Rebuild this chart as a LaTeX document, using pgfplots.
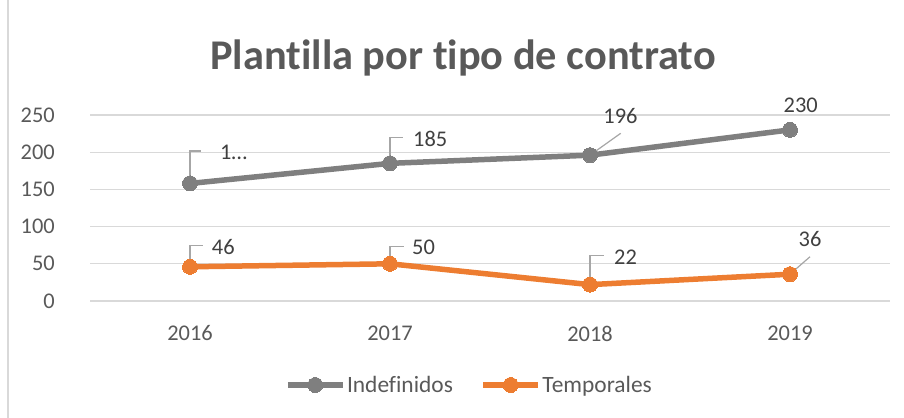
\documentclass[border=0pt]{standalone}
\usepackage{fontspec}
\setmainfont{Carlito}[Ligatures=NoCommon]
\usepackage{pgfplots}
\pgfplotsset{compat=1.18}
\definecolor{cgray}{HTML}{7F7F7F}
\definecolor{corange}{HTML}{ED7D31}
\definecolor{ctext}{HTML}{595959}
\definecolor{clabel}{HTML}{404040}
\definecolor{cgrid}{HTML}{D9D9D9}
\definecolor{clead}{HTML}{A6A6A6}
\begin{document}
\begin{tikzpicture}
\useasboundingbox (0bp,0bp) rectangle (904bp,418bp);
\draw[cgrid, line width=1.2bp] (8bp,0bp) -- (8bp,418bp);
\node[anchor=base, inner sep=0pt, text=ctext, font=\fontsize{42.5}{48}\selectfont\bfseries] at (463bp,348bp) {Plantilla por tipo de contrato};
\begin{axis}[
  at={(90bp,117bp)}, anchor=south west,
  width=800bp, height=186bp, scale only axis,
  xmin=-0.5, xmax=3.5, ymin=0, ymax=250,
  xtick={0,1,2,3}, xticklabels={2016,2017,2018,2019},
  ytick={0,50,100,150,200,250},
  /pgf/number format/assume math mode=true,
  axis line style={draw=none},
  major tick length=0pt,
  ymajorgrids, grid style={cgrid, line width=1.3bp},
  tick label style={font=\fontsize{22.5}{27}\selectfont, text=ctext, inner sep=0pt},
  yticklabel style={anchor=east, xshift=-35bp},
  xticklabel style={anchor=north, yshift=-24.6bp},
  clip=false,
  legend columns=2,
  legend style={at={(0.474,-0.4516)}, anchor=center, draw=none, fill=none,
    font=\fontsize{23.5}{27}\selectfont, text=ctext,
    nodes={inner sep=1.5bp},
    /tikz/every even column/.append style={column sep=26bp}},
  legend image code/.code={\draw[mark repeat=2,mark phase=2,#1] plot coordinates {(0bp,0bp) (27.5bp,0bp) (55bp,0bp)};},
]
\addplot[cgray, line width=5.5bp, mark=*, mark size=7.5bp, mark options={solid, fill=cgray, draw=cgray, line width=0pt}]
  coordinates {(0,158) (1,185) (2,196) (3,230)};
\addlegendentry{Indefinidos}
\addplot[corange, line width=5.5bp, mark=*, mark size=7.5bp, mark options={solid, fill=corange, draw=corange, line width=0pt}]
  coordinates {(0,46) (1,50) (2,22) (3,36)};
\addlegendentry{Temporales}
% leader lines
\draw[clead, line width=1.2bp] (axis cs:0,158) -- (axis cs:0,201.6) -- (axis cs:0.055,201.6);
\draw[clead, line width=1.2bp] (axis cs:1,185) -- (axis cs:1,220) -- (axis cs:1.065,220);
\draw[clead, line width=1.2bp] (axis cs:2,196) -- (axis cs:2.1535,225.4);
\draw[clead, line width=1.2bp] (axis cs:0,46) -- (axis cs:0,74.3) -- (axis cs:0.065,74.3);
\draw[clead, line width=1.2bp] (axis cs:1,50) -- (axis cs:1,73) -- (axis cs:1.07,73);
\draw[clead, line width=1.2bp] (axis cs:2,22) -- (axis cs:2,60.9) -- (axis cs:2.07,60.9);
\draw[clead, line width=1.2bp] (axis cs:3,36) -- (axis cs:3.1,59.5);
% data labels
\begin{scope}[every node/.style={inner sep=0pt, text=clabel, font=\fontsize{22.5}{27}\selectfont}]
\node[anchor=west] at (axis cs:0.15,200.3) {1…};
\node[anchor=west] at (axis cs:1.115,217.7) {185};
\node at (axis cs:2.1525,249) {196};
\node at (axis cs:3.0535,263.4) {230};
\node[anchor=west] at (axis cs:0.1085,72.2) {46};
\node[anchor=west] at (axis cs:1.11,72.6) {50};
\node[anchor=west] at (axis cs:2.12,59.1) {22};
\node at (axis cs:3.1,82.9) {36};
\end{scope}
\end{axis}
\end{tikzpicture}
\end{document}
